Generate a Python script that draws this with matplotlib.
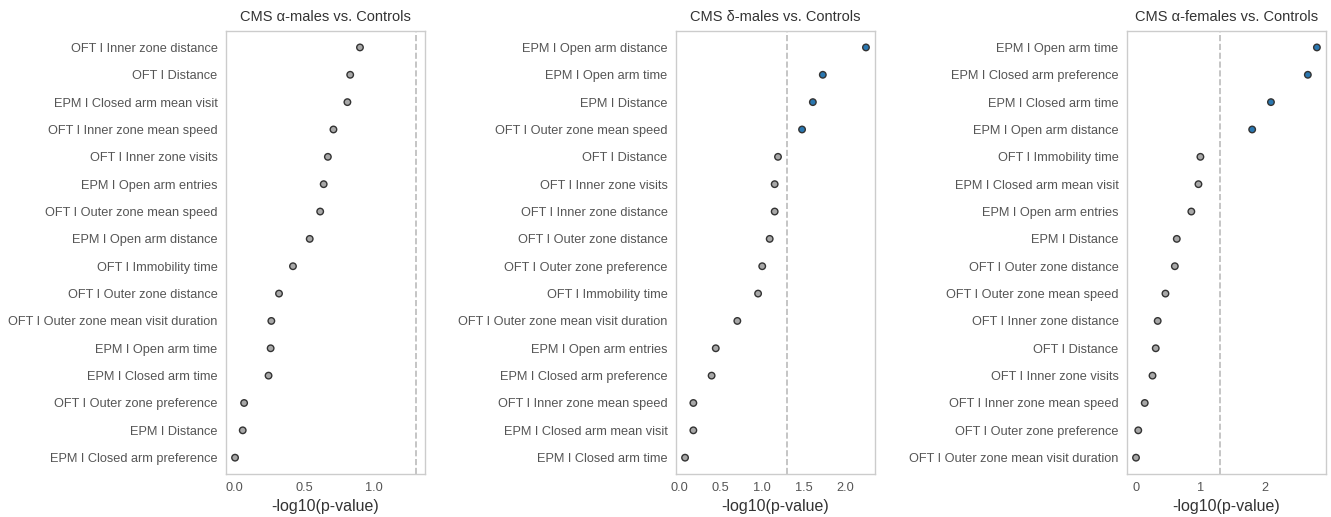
import numpy as np
import matplotlib
matplotlib.use("Agg")
import matplotlib.pyplot as plt

plt.rcParams['font.family'] = ['Liberation Sans', 'DejaVu Sans']

# -log10(p) threshold line (p = 0.05)
thresh = -np.log10(0.05)

# Panel 1: CMS alpha-males vs. Controls (top to bottom)
alpha_m_labels = ["OFT I Inner zone distance", "OFT I Distance", "EPM I Closed arm mean visit",
                  "OFT I Inner zone mean speed", "OFT I Inner zone visits", "EPM I Open arm entries",
                  "OFT I Outer zone mean speed", "EPM I Open arm distance", "OFT I Immobility time",
                  "OFT I Outer zone distance", "OFT I Outer zone mean visit duration",
                  "EPM I Open arm time", "EPM I Closed arm time", "OFT I Outer zone preference",
                  "EPM I Distance", "EPM I Closed arm preference"]
alpha_m_vals = [0.90, 0.83, 0.81, 0.71, 0.67, 0.64, 0.615, 0.54, 0.42, 0.32, 0.265,
                0.26, 0.245, 0.07, 0.06, 0.005]

# Panel 2: CMS delta-males vs. Controls
delta_m_labels = ["EPM I Open arm distance", "EPM I Open arm time", "EPM I Distance",
                  "OFT I Outer zone mean speed", "OFT I Distance", "OFT I Inner zone visits",
                  "OFT I Inner zone distance", "OFT I Outer zone distance",
                  "OFT I Outer zone preference", "OFT I Immobility time",
                  "OFT I Outer zone mean visit duration", "EPM I Open arm entries",
                  "EPM I Closed arm preference", "OFT I Inner zone mean speed",
                  "EPM I Closed arm mean visit", "EPM I Closed arm time"]
delta_m_vals = [2.25, 1.73, 1.61, 1.48, 1.19, 1.15, 1.15, 1.09, 1.00, 0.95, 0.70,
                0.44, 0.39, 0.17, 0.17, 0.07]

# Panel 3: CMS alpha-females vs. Controls
alpha_f_labels = ["EPM I Open arm time", "EPM I Closed arm preference", "EPM I Closed arm time",
                  "EPM I Open arm distance", "OFT I Immobility time", "EPM I Closed arm mean visit",
                  "EPM I Open arm entries", "EPM I Distance", "OFT I Outer zone distance",
                  "OFT I Outer zone mean speed", "OFT I Inner zone distance", "OFT I Distance",
                  "OFT I Inner zone visits", "OFT I Inner zone mean speed",
                  "OFT I Outer zone preference", "OFT I Outer zone mean visit duration"]
alpha_f_vals = [2.80, 2.66, 2.09, 1.80, 1.00, 0.97, 0.86, 0.635, 0.605, 0.46, 0.34, 0.31,
                0.26, 0.14, 0.04, 0.005]

titles = ["CMS \u03b1-males vs. Controls", "CMS \u03b4-males vs. Controls",
          "CMS \u03b1-females vs. Controls"]

panels = [(alpha_m_labels, alpha_m_vals), (delta_m_labels, delta_m_vals),
          (alpha_f_labels, alpha_f_vals)]
xticks = [[0.0, 0.5, 1.0], [0.0, 0.5, 1.0, 1.5, 2.0], [0, 1, 2]]

txt = "#555555"
fig = plt.figure(figsize=(13.31, 5.17), dpi=100)
lefts = [0.1698, 0.5079, 0.8467]
for i, (labels, vals) in enumerate(panels):
    ax = fig.add_axes([lefts[i], 0.083, 0.1495, 0.857])
    vals = np.array(vals)
    y = np.arange(len(vals))[::-1]
    cols = np.where(vals > thresh, "#2a77b0", "#a8a8a8")
    ax.scatter(vals, y, s=22, c=cols, edgecolors="#333333", linewidths=1.0, zorder=3)
    ax.axvline(thresh, color="#bbbbbb", ls="--", lw=1.2, zorder=1)
    ax.set_yticks(y)
    ax.set_yticklabels(labels)
    ax.set_ylim(-0.6, len(vals) - 0.4)
    ax.set_title(titles[i], fontsize=10.5, color="#333333", pad=7)
    ax.set_xlabel("-log10(p-value)", fontsize=11.5, color="#333333", labelpad=3)
    ax.tick_params(axis="both", length=0, labelsize=9.2, colors=txt, pad=6)
    for sp in ax.spines.values():
        sp.set_color("#cccccc")
        sp.set_linewidth(1.0)
    ax.set_xticks(xticks[i])
    ax.margins(x=0.05)

plt.savefig("out.png", dpi=100)
